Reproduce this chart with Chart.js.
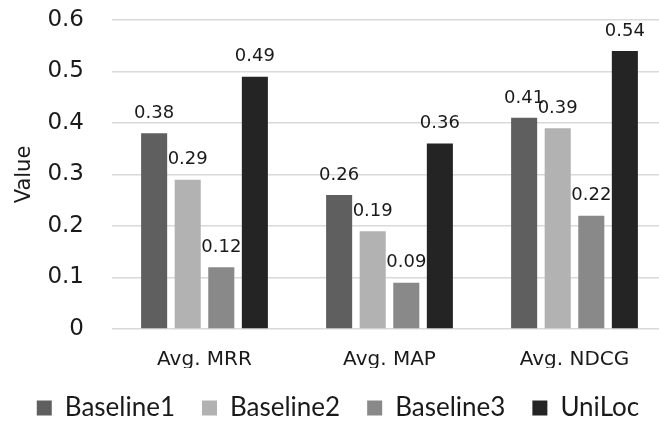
<!DOCTYPE html>
<html>
<head>
<meta charset="utf-8">
<script src="https://cdn.jsdelivr.net/npm/chart.js@4.4.0/dist/chart.umd.min.js"></script>
<style>
    body { margin: 0; background: #fff; }
    #wrap { width: 659px; height: 422px; overflow: hidden; }
</style>
</head>
<body>
<div id="wrap"><canvas id="graf1" width="667" height="431"></canvas></div>
<script>
//---------------------------------------------------------------------------
//                         DADOS

const categorias = ['Avg. MRR', 'Avg. MAP', 'Avg. NDCG'];
const baseline1 = [0.38, 0.26, 0.41];
const baseline2 = [0.29, 0.19, 0.39];
const baseline3 = [0.12, 0.09, 0.22];
const uniloc = [0.49, 0.36, 0.54];
const ticks_y = [0, 0.1, 0.2, 0.3, 0.4, 0.5, 0.6];

//---------------------------------------------------------------------------
//                         RÓTULOS EM CIMA DAS BARRAS

const rotulos = {
    id: 'rotulos',
    afterDatasetsDraw(chart) {
        const ctx = chart.ctx;
        ctx.save();
        ctx.font = '18px "DejaVu Sans"';
        ctx.fillStyle = '#1a1a1a';
        ctx.textAlign = 'center';
        ctx.textBaseline = 'middle';
        chart.data.datasets.forEach(function (ds, i) {
            chart.getDatasetMeta(i).data.forEach(function (bar, j) {
                ctx.fillText(ds.data[j].toFixed(2), bar.x, bar.y - 20);
            });
        });
        ctx.restore();
    }
};

//---------------------------------------------------------------------------
//                         GRÁFICO

function grafico1() {
    const grafico1 = document.getElementById('graf1');
    const graf1 = new Chart(grafico1, {
        type: 'bar',
        data: {
            labels: categorias,
            datasets: [
                { label: 'Baseline1', data: baseline1, backgroundColor: '#5f5f5f' },
                { label: 'Baseline2', data: baseline2, backgroundColor: '#b2b2b2' },
                { label: 'Baseline3', data: baseline3, backgroundColor: '#898989' },
                { label: 'UniLoc', data: uniloc, backgroundColor: '#242424' }
            ]
        },
        options: {
            responsive: false,
            animation: false,
            barPercentage: 0.776,
            categoryPercentage: 0.726,
            layout: {
                padding: { left: 9, right: 0, top: 20, bottom: 0 }
            },
            plugins: {
                tooltip: { enabled: false },
                legend: {
                    display: true,
                    position: 'bottom',
                    labels: {
                        boxWidth: 15,
                        boxHeight: 15,
                        padding: 27,
                        color: '#1a1a1a',
                        font: { family: 'Lato', size: 26 }
                    }
                }
            },
            scales: {
                x: {
                    grid: { display: false },
                    border: { display: false },
                    ticks: {
                        color: '#1a1a1a',
                        padding: 11,
                        font: { family: 'DejaVu Sans', size: 20 }
                    },
                    afterFit: function (scale) { scale.height = 39; }
                },
                y: {
                    min: 0,
                    max: 0.6,
                    afterBuildTicks: function (scale) {
                        scale.ticks = ticks_y.map(v => ({ value: v }));
                    },
                    // tick marks invisíveis só para afastar os rótulos do eixo
                    grid: { color: '#d9d9d9', lineWidth: 1.5, drawTicks: true, tickLength: 28, tickColor: 'rgba(0,0,0,0)' },
                    border: { display: false },
                    ticks: {
                        color: '#1a1a1a',
                        padding: 0,
                        font: { family: 'DejaVu Sans', size: 23 },
                        callback: function (v) { return v === 0 ? '0' : v.toFixed(1); }
                    },
                    title: {
                        display: true,
                        text: 'Value',
                        color: '#1a1a1a',
                        padding: { top: 3, bottom: 0 },
                        font: { family: 'DejaVu Sans', size: 21 }
                    },
                    afterFit: function (scale) { scale.width = 103; }
                }
            }
        },
        plugins: [rotulos]
    });
}

grafico1();
</script>
</body>
</html>
